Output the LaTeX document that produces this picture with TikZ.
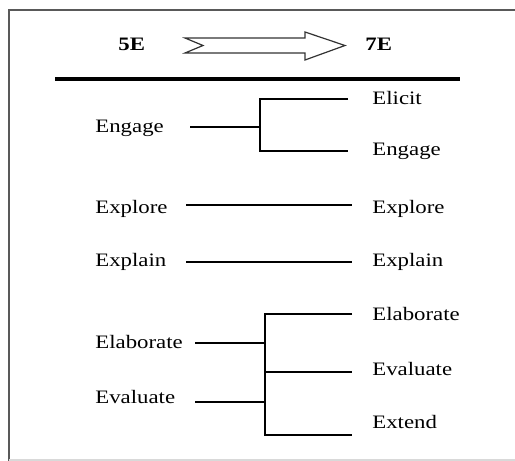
\documentclass[tikz,border=0pt]{standalone}
\usepackage{fontspec}
\setmainfont[FakeStretch=1.2]{Liberation Serif}
\tikzset{
  stage/.style={anchor=base west, inner sep=0pt, font=\fontsize{9.5}{11}\selectfont},
  model/.style={stage, font=\fontsize{9.5}{11}\selectfont\bfseries},
  link/.style={line width=1.2pt},
}
\begin{document}
\begin{tikzpicture}[x=0.5pt, y=-0.5pt]
      \useasboundingbox (0,0) rectangle (515,461);
      \draw[line width=1pt, black!65] (515,10) -- (9,10) -- (9,461);
      \draw[line width=.6pt, black!15] (9,460) -- (515,460);
      \node[model] (five) at (118,50) {5E};
      \node[model] (seven) at (365,50) {7E};
      \draw[line width=.6pt, black!80] (185,38) -- (305,38) -- (305,32) -- (345,45.5) -- (305,60) -- (305,53) -- (185,53) -- (203,45.5) -- cycle;
      \draw[line width=2pt] (55,79) -- (460,79);
      \node[stage] (old-engage) at (95,132) {Engage};
      \node[stage] (old-explore) at (95,213) {Explore};
      \node[stage] (old-explain) at (95,266) {Explain};
      \node[stage] (old-elaborate) at (95,348) {Elaborate};
      \node[stage] (old-evaluate) at (95,403) {Evaluate};
      \node[stage] (new-elicit) at (372,104) {Elicit};
      \node[stage] (new-engage) at (372,155) {Engage};
      \node[stage] (new-explore) at (372,213) {Explore};
      \node[stage] (new-explain) at (372,266) {Explain};
      \node[stage] (new-elaborate) at (372,320) {Elaborate};
      \node[stage] (new-evaluate) at (372,375) {Evaluate};
      \node[stage] (new-extend) at (372,428) {Extend};
      \coordinate (engage-in) at (190,127);
      \coordinate (engage-fork) at (260,127);
      \coordinate (elicit-end) at (348,99);
      \coordinate (engage-end) at (348,151);
      \draw[link] (engage-in) -- (engage-fork);
      \draw[link] (elicit-end) -| (engage-fork) |- (engage-end);
      \coordinate (explore-in) at (186,205);
      \coordinate (explore-end) at (352,205);
      \draw[link] (explore-in) -- (explore-end);
      \coordinate (explain-in) at (186,262);
      \coordinate (explain-end) at (352,262);
      \draw[link] (explain-in) -- (explain-end);
      \coordinate (elaborate-in) at (195,343);
      \coordinate (elaborate-join) at (265,343);
      \coordinate (evaluate-in) at (195,402);
      \coordinate (evaluate-join) at (265,402);
      \coordinate (evaluate-fork) at (265,372);
      \coordinate (elaborate-end) at (352,314);
      \coordinate (evaluate-end) at (352,372);
      \coordinate (extend-end) at (352,435);
      \draw[link] (elaborate-in) -- (elaborate-join);
      \draw[link] (evaluate-in) -- (evaluate-join);
      \draw[link] (elaborate-end) -| (evaluate-fork) |- (extend-end);
      \draw[link] (evaluate-fork) -- (evaluate-end);
\end{tikzpicture}
\end{document}
